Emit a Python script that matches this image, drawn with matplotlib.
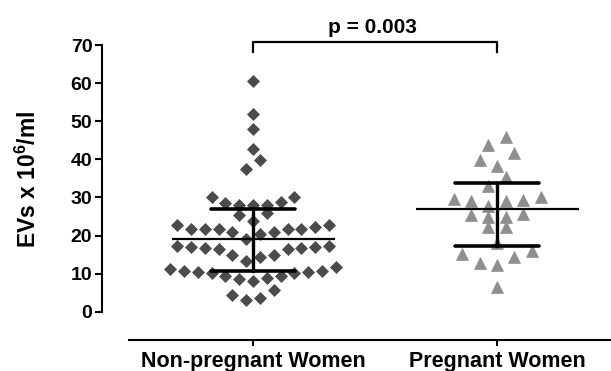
import numpy as np
import matplotlib
matplotlib.use("Agg")
import matplotlib.pyplot as plt

# ---------------- data ----------------
categories = ["Non-pregnant Women", "Pregnant Women"]

non_pregnant = [60.6, 51.8, 47.9, 42.7, 39.8, 37.5,
                28.0, 28.0, 30.0, 28.9, 30.0, 28.0, 28.5, 26.0, 25.4, 23.9,
                22.8, 22.1, 21.8, 21.6, 21.0, 20.4, 19.2, 21.0, 21.6, 21.8, 21.8, 22.8,
                17.2, 16.9, 16.6, 16.4, 14.9, 13.4, 14.4, 14.9, 16.4, 16.6, 16.9, 17.2,
                11.1, 10.8, 10.5, 10.2, 9.4, 8.8, 8.1, 8.5, 9.4, 10.2, 10.5, 10.8, 11.8,
                4.4, 3.1, 3.5, 5.7]

pregnant = [45.9, 43.8, 41.6, 39.8, 38.2, 35.3, 33.0,
            29.5, 29.1, 27.7, 29.1, 29.3, 30.2,
            25.4, 24.9, 24.9, 25.6, 22.3, 22.1, 18.1,
            15.1, 12.7, 12.3, 14.3, 16.0, 6.6]

centre_line = [19.0, 26.9]
lower_bar = [10.6, 17.2]
upper_bar = [26.9, 33.9]

y_ticks = [0, 10, 20, 30, 40, 50, 60, 70]
p_label = "p = 0.003"
y_label = "EVs x 10$^{6}$/ml"

# ---------------- style ----------------
plt.rcParams['font.family'] = ['Liberation Sans', 'DejaVu Sans']
plt.rcParams['font.weight'] = 'bold'
plt.rcParams['mathtext.fontset'] = 'custom'
plt.rcParams['mathtext.rm'] = 'Liberation Sans:bold'
plt.rcParams['mathtext.it'] = 'Liberation Sans:bold'
plt.rcParams['mathtext.bf'] = 'Liberation Sans:bold'
plt.rcParams['mathtext.default'] = 'regular'

W, H = 611, 371
fig = plt.figure(figsize=(W / 100, H / 100), dpi=100)

# pixel geometry
y0_px, y70_px, xaxis_px = 311.7, 45.0, 340.0
px_per_unit_y = (y0_px - y70_px) / 70.0
cat_px = [253.0, 497.0]
px_per_unit_x = cat_px[1] - cat_px[0]
left_px, right_px = 102.0, 611.0

ax = fig.add_axes([left_px / W, (H - xaxis_px) / H,
                   (right_px - left_px) / W, (xaxis_px - y70_px) / H])
ax.set_ylim(-(xaxis_px - y0_px) / px_per_unit_y, 70)
ax.set_xlim(-(cat_px[0] - left_px) / px_per_unit_x,
            1 + (right_px - cat_px[1]) / px_per_unit_x)


def row_offsets(values, spacing_px, max_gap, max_span, min_sep_px):
    """Prism-like scatter: group close values into rows, spread each row
    horizontally, lowest values nearest the centre."""
    vals = np.asarray(values, dtype=float)
    order = np.argsort(vals, kind="stable")
    rows, cur = [], [order[0]]
    for i in order[1:]:
        gap = vals[i] - vals[cur[-1]]
        new_row = gap > max_gap or vals[i] - vals[cur[0]] > max_span
        # a lone point would overlap the next one: put both in one row
        if new_row and len(cur) == 1 and gap * px_per_unit_y < min_sep_px:
            new_row = False
        if new_row:
            rows.append(cur)
            cur = [i]
        else:
            cur.append(i)
    rows.append(cur)
    offs = np.zeros(len(vals))
    for r in rows:
        n = len(r)
        pos = (np.arange(n) - (n - 1) / 2.0) * spacing_px
        pos = sorted(pos, key=lambda p: (round(abs(p), 6), p))
        for idx, p in zip(r, pos):
            offs[idx] = p
    return offs / px_per_unit_x


groups = [non_pregnant, pregnant]
markers = ['D', '^']
colors = ['#4b4b4b', '#8e8e8e']
msizes = [6.3, 8.8]
spacings = [13.8, 17.4]
gaps = [2.5, 2.0]
spans = [4.0, 4.0]
min_seps = [11.0, 11.0]

for k, vals in enumerate(groups):
    xo = row_offsets(vals, spacings[k], gaps[k], spans[k], min_seps[k])
    ax.plot(k + xo, vals, linestyle='none', marker=markers[k], ms=msizes[k],
            mfc=colors[k], mec=colors[k], mew=0.5, zorder=2)

median_half = 81.5 / px_per_unit_x
cap_half = 42.0 / px_per_unit_x
for k in range(2):
    ax.plot([k - median_half, k + median_half], [centre_line[k]] * 2,
            color='black', lw=1.6, solid_capstyle='butt', zorder=3)
    ax.plot([k, k], [lower_bar[k], upper_bar[k]], color='black', lw=2.4, zorder=3)
    for v in (lower_bar[k], upper_bar[k]):
        ax.plot([k - cap_half, k + cap_half], [v, v], color='black', lw=2.6,
                solid_capstyle='round', zorder=3)

# significance bracket
br_top = (y0_px - 41.7) / px_per_unit_y
br_bot = (y0_px - 51.7) / px_per_unit_y
ax.plot([0, 0, 1, 1], [br_bot, br_top, br_top, br_bot], color='black', lw=1.6,
        clip_on=False)
ax.text(0.49, (y0_px - 27.5) / px_per_unit_y, p_label, ha='center', va='center',
        fontsize=15, fontweight='bold')

# axes styling
for s in ('top', 'right'):
    ax.spines[s].set_visible(False)
ax.spines['left'].set_bounds(0, 70)
ax.spines['left'].set_linewidth(1.5)
ax.spines['bottom'].set_bounds(-(cat_px[0] - 129) / px_per_unit_x,
                               1 + (right_px - cat_px[1]) / px_per_unit_x)
ax.spines['bottom'].set_linewidth(1.5)
ax.set_yticks(y_ticks)
ax.set_yticklabels([str(t) for t in y_ticks])
ax.set_xticks([0, 1])
ax.set_xticklabels(categories)
ax.tick_params(axis='y', direction='out', length=5, width=1.5, pad=2, labelsize=14)
ax.tick_params(axis='x', direction='out', length=4, width=1.5, pad=4, labelsize=15.5)
for lab in ax.get_xticklabels() + ax.get_yticklabels():
    lab.set_fontweight('bold')

fig.text(28 / W, 1 - 179 / H, y_label, rotation=90, ha='center', va='center',
         fontsize=16.5, fontweight='bold')

fig.savefig('out.png', dpi=100)
